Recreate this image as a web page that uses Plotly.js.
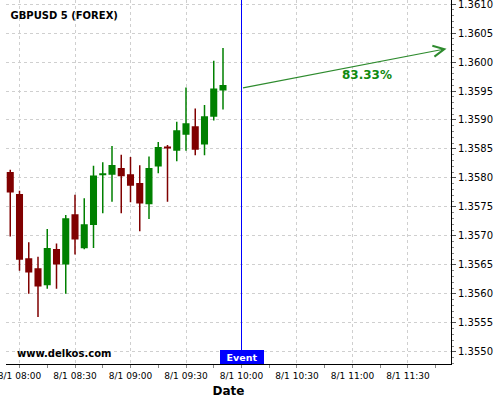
<!DOCTYPE html>
<html>
<head>
<meta charset="utf-8">
<script src="https://cdn.plot.ly/plotly-3.0.1.min.js"></script>
<style>html,body{margin:0;padding:0;background:#fff;}#chart{width:500px;height:400px;}</style>
</head>
<body>
<div id="chart"></div>
<script>
const times = ['2013-08-01 07:55','2013-08-01 08:00','2013-08-01 08:05','2013-08-01 08:10','2013-08-01 08:15','2013-08-01 08:20',
  '2013-08-01 08:25','2013-08-01 08:30','2013-08-01 08:35','2013-08-01 08:40','2013-08-01 08:45','2013-08-01 08:50',
  '2013-08-01 08:55','2013-08-01 09:00','2013-08-01 09:05','2013-08-01 09:10','2013-08-01 09:15','2013-08-01 09:20',
  '2013-08-01 09:25','2013-08-01 09:30','2013-08-01 09:35','2013-08-01 09:40','2013-08-01 09:45','2013-08-01 09:50'];
const openV  = [1.35809,1.35771,1.35660,1.35643,1.35616,1.35676,1.35652,1.35736,1.35680,1.35720,1.35806,1.35807,
  1.35816,1.35805,1.35790,1.35756,1.35821,1.35853,1.35848,1.35876,1.35888,1.35859,1.35907,1.35952];
const highV  = [1.35814,1.35778,1.35689,1.35664,1.35712,1.35687,1.35736,1.35771,1.35765,1.35821,1.35827,1.35855,
  1.35840,1.35836,1.35822,1.35837,1.35862,1.35857,1.35897,1.35956,1.35920,1.35926,1.36002,1.36024];
const lowV   = [1.35699,1.35640,1.35600,1.35560,1.35609,1.35609,1.35600,1.35668,1.35677,1.35679,1.35739,1.35759,
  1.35739,1.35758,1.35708,1.35729,1.35808,1.35759,1.35829,1.35847,1.35839,1.35839,1.35899,1.35918];
const closeV = [1.35776,1.35660,1.35638,1.35614,1.35678,1.35652,1.35729,1.35695,1.35719,1.35803,1.35807,1.35821,
  1.35804,1.35788,1.35757,1.35816,1.35852,1.35852,1.35881,1.35893,1.35850,1.35905,1.35953,1.35959];

const eventTime = '2013-08-01 10:00';
const arrowStart = {t: '2013-08-01 10:00', p: 1.35955};
const arrowEnd = {t: '2013-08-01 11:50:50', p: 1.36023};
const probLabel = {t: '2013-08-01 11:08', p: 1.35977, text: '83.33%'};
const xRange = ['2013-08-01 07:52:42', '2013-08-01 11:53:15'];
const yRange = [1.35479, 1.36107];

const FONT = 'DejaVu Sans';

const trace = {
  type: 'candlestick', x: times, open: openV, high: highV, low: lowV, close: closeV,
  increasing: {line: {color: '#008000', width: 1.5}, fillcolor: '#008000'},
  decreasing: {line: {color: '#800000', width: 1.5}, fillcolor: '#800000'},
  whiskerwidth: 0, hoverinfo: 'skip', showlegend: false
};

const layout = {
  width: 500, height: 400,
  margin: {l: 6, r: 49, t: 0, b: 36},
  paper_bgcolor: '#fff', plot_bgcolor: '#fff',
  boxgap: 0.4, boxgroupgap: 0,
  font: {family: FONT, size: 10, color: '#000'},
  title: {text: 'GBPUSD 5 (FOREX)', xref: 'container', x: 0.021, xanchor: 'left', yref: 'container', y: 0.9625, yanchor: 'middle',
    font: {family: FONT, size: 10, weight: 'bold', color: '#000'}},
  xaxis: {
    type: 'date', range: xRange, rangeslider: {visible: false},
    tickformat: '%-m/%-d %H:%M', tick0: '2013-08-01 08:00', dtick: 1800000,
    ticks: 'outside', ticklen: 3, tickcolor: '#888', tickfont: {family: FONT, size: 9, color: '#000'},
    ticklabeloverflow: 'allow',
    minor: {dtick: 900000, ticks: 'outside', ticklen: 3, tickcolor: '#888', showgrid: false},
    showline: true, linecolor: '#000', linewidth: 1, mirror: false,
    showgrid: true, gridcolor: '#cfcfcf', griddash: '3px,3px', gridwidth: 1,
    zeroline: false, fixedrange: true,
    title: {text: 'Date', font: {family: FONT, size: 12, weight: 'bold', color: '#000'}, standoff: 6}
  },
  yaxis: {
    side: 'right', range: yRange, dtick: 0.0005, tick0: 1.355, tickformat: '.4f',
    ticks: 'outside', ticklen: 4, tickcolor: '#555', tickfont: {family: FONT, size: 10, color: '#000'},
    ticklabeloverflow: 'allow',
    minor: {dtick: 0.0001, ticks: 'outside', ticklen: 2, tickcolor: '#888', showgrid: false},
    showline: true, linecolor: '#000', linewidth: 1,
    showgrid: true, gridcolor: '#cfcfcf', griddash: '3px,3px', gridwidth: 1,
    zeroline: false, fixedrange: true
  },
  shapes: [
    {type: 'line', xref: 'x', yref: 'paper', x0: eventTime, x1: eventTime, y0: 0, y1: 1, line: {color: '#0000ff', width: 1}}
  ],
  annotations: [
    {xref: 'x', yref: 'y', axref: 'x', ayref: 'y', x: arrowEnd.t, y: arrowEnd.p, ax: arrowStart.t, ay: arrowStart.p,
      text: '', showarrow: true, arrowhead: 5, arrowsize: 1.8, arrowwidth: 1.2, arrowcolor: '#2e8b2e', standoff: 0, startstandoff: 0},
    {xref: 'x', yref: 'y', x: probLabel.t, y: probLabel.p, text: '<b>' + probLabel.text + '</b>', showarrow: false,
      font: {family: FONT, size: 12, color: '#108a10'}, xanchor: 'center', yanchor: 'middle'},
    {xref: 'x', yref: 'paper', x: eventTime, y: 0, yanchor: 'bottom', xanchor: 'center', text: '<b>Event</b>', showarrow: false,
      bgcolor: '#0000ff', font: {family: FONT, size: 9.5, color: '#fff'}, width: 44, height: 14, borderpad: 0, borderwidth: 0},
    {xref: 'paper', yref: 'paper', x: 0.0202, y: 0.0275, xanchor: 'left', yanchor: 'middle', text: '<b>www.delkos.com</b>', showarrow: false,
      font: {family: FONT, size: 10, color: '#000'}}
  ]
};

Plotly.newPlot('chart', [trace], layout, {displayModeBar: false, staticPlot: true});
</script>
</body>
</html>
